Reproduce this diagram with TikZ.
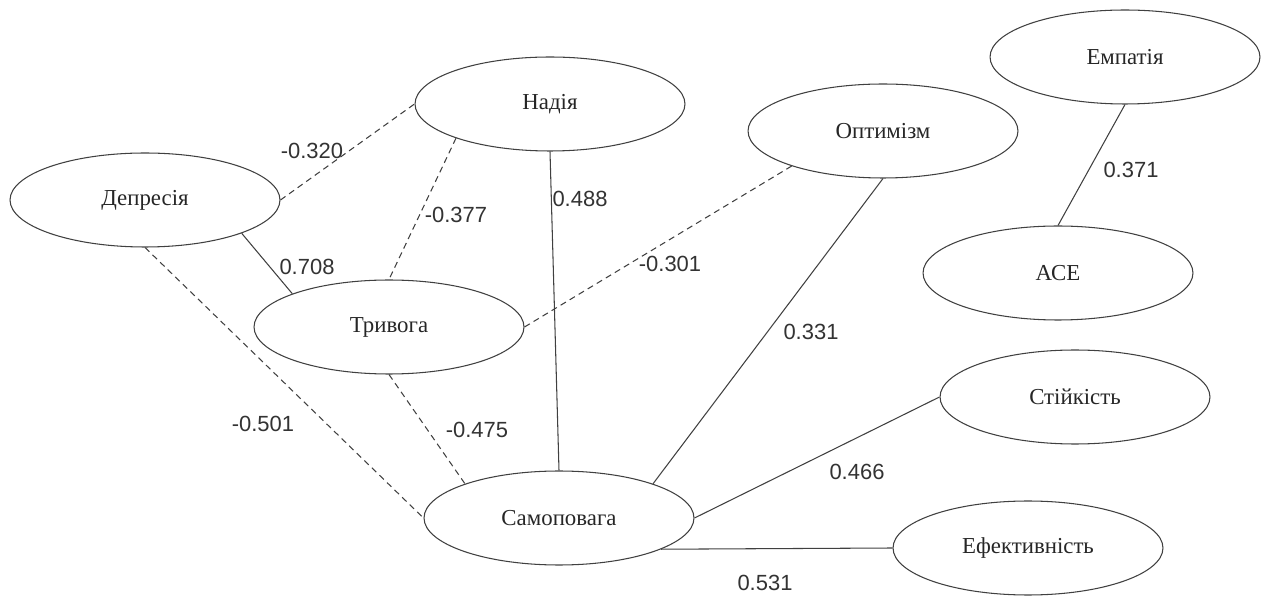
\documentclass[tikz,border=0pt]{standalone}
\usepackage{fontspec}
\setmainfont{Liberation Serif}
\newfontfamily\corrfont{Liberation Sans}
\usetikzlibrary{shapes.geometric}
\tikzstyle{factor}=[draw=black!75, line width=0.6pt, ellipse, inner sep=0,
                    minimum width=5.4cm, minimum height=1.88cm,
                    text=black!85, font=\fontsize{13}{15}\selectfont]
\tikzstyle{poslink}=[draw=black!75, line width=0.6pt]
\tikzstyle{neglink}=[poslink, dash pattern=on 3.5pt off 2.5pt]
\tikzstyle{corr}=[inner sep=0, text=black!80, font=\corrfont\fontsize{12.5}{15}\selectfont]

\begin{document}
\begin{tikzpicture}[x=0.02cm, y=-0.02cm]
    \useasboundingbox (0,0) rectangle (1268,597);
    % factors
    \node[factor] (Depr) at (145,200) {Депресія};
    \node[factor] (Nadia) at (550,104) {Надія};
    \node[factor] (Optym) at (883,131) {Оптимізм};
    \node[factor] (Empat) at (1125,57) {Емпатія};
    \node[factor] (ACE) at (1058,273) {АСЕ};
    \node[factor] (Tryv) at (389,327) {Тривога};
    \node[factor] (Stiik) at (1075,397) {Стійкість};
    \node[factor] (Samop) at (559,518) {Самоповага};
    \node[factor] (Efekt) at (1028,548) {Ефективність};
    % links
    \draw[neglink] (Depr.east) -- (Nadia.west);
    \draw[poslink] (Depr.-19) -- (Tryv.161);
    \draw[neglink] (Depr.south) -- (Samop.west);
    \draw[neglink] (Nadia.-160) -- (Tryv.north);
    \draw[poslink] (Nadia.south) -- (Samop.north);
    \draw[neglink] (Tryv.east) -- (Optym.-159);
    \draw[neglink] (Tryv.south) -- (Samop.160);
    \draw[poslink] (Optym.south) -- (Samop.20);
    \draw[poslink] (Empat.south) -- (ACE.north);
    \draw[poslink] (Samop.east) -- (Stiik.west);
    \draw[poslink] (Samop.-17) -- (Efekt.west);
    % coefficients
    \node[corr] (c320) at (312,151) {-0.320};
    \node[corr] (c708) at (307,267) {0.708};
    \node[corr] (c501) at (263,424) {-0.501};
    \node[corr] (c377) at (456,215) {-0.377};
    \node[corr] (c488) at (580,199) {0.488};
    \node[corr] (c301) at (670,264) {-0.301};
    \node[corr] (c475) at (477,430) {-0.475};
    \node[corr] (c331) at (811,332) {0.331};
    \node[corr] (c371) at (1131,170) {0.371};
    \node[corr] (c466) at (857,472) {0.466};
    \node[corr] (c531) at (765,583) {0.531};
\end{tikzpicture}
\end{document}
